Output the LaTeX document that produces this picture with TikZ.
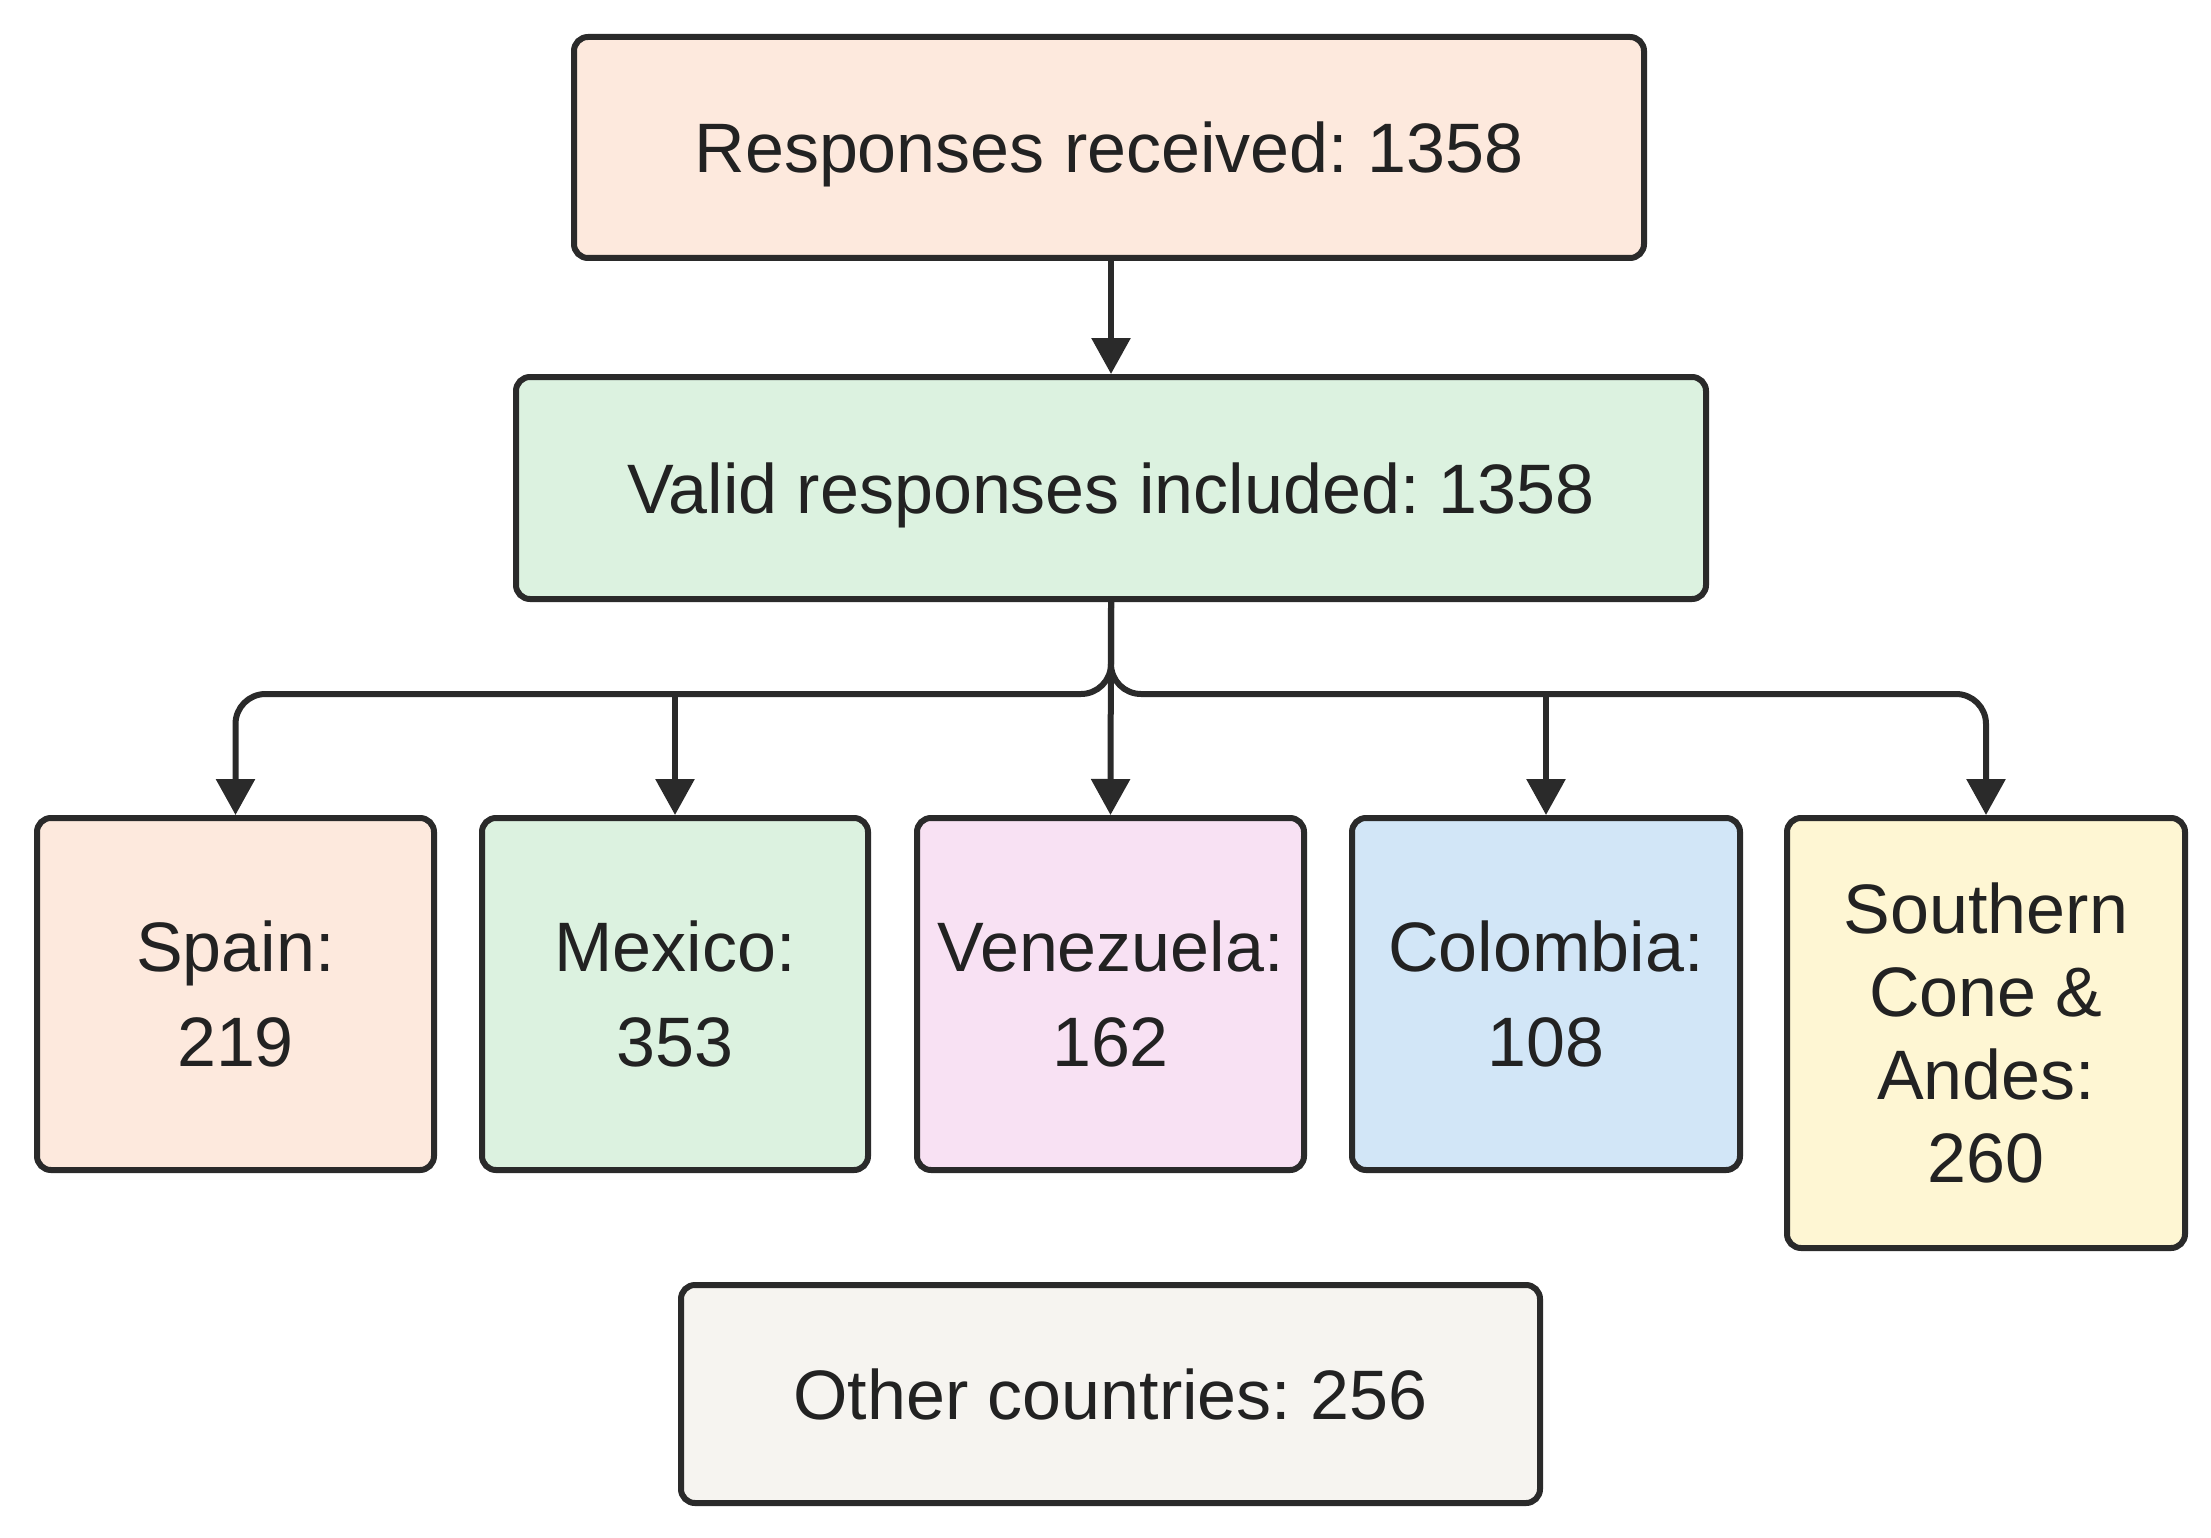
\documentclass[tikz,border=0pt]{standalone}
\usepackage{fontspec}
\setmainfont{Liberation Sans}
\usetikzlibrary{arrows.meta}
\definecolor{edgecol}{HTML}{2A2A2A}
\definecolor{textcol}{HTML}{222222}
\definecolor{peach}{HTML}{FDE9DD}
\definecolor{mint}{HTML}{DCF2E0}
\definecolor{pinkish}{HTML}{F8E1F3}
\definecolor{skyblue}{HTML}{D2E6F7}
\definecolor{cream}{HTML}{FEF6D3}
\definecolor{offwhite}{HTML}{F6F4F0}
\frenchspacing
\begin{document}
\begin{tikzpicture}[x=1pt,y=-1pt,
  box/.style={draw=edgecol, line width=6pt, rounded corners=14pt, align=center,
    text=textcol, inner sep=0pt, font=\fontsize{70}{95}\selectfont},
  conn/.style={draw=edgecol, line width=6pt, -{Triangle[length=36pt,width=38pt]}}]
\useasboundingbox[fill=white] (0,0) rectangle (2211,1538);

\node[box, fill=peach, minimum width=1070pt, minimum height=221pt, text depth=0pt] (top) at (1109,147.5) {Responses received: 1358};
\node[box, fill=mint, minimum width=1190pt, minimum height=222pt, text depth=0pt] (valid) at (1111,488) {Valid responses included: 1358};

\node[box, fill=peach, minimum width=397pt, minimum height=352pt] (spain) at (235.5,994) {Spain:\\219};
\node[box, fill=mint, minimum width=386pt, minimum height=352pt] (mexico) at (675,994) {Mexico:\\353};
\node[box, fill=pinkish, minimum width=387pt, minimum height=352pt] (venez) at (1110.5,994) {Venezuela:\\162};
\node[box, fill=skyblue, minimum width=388pt, minimum height=352pt] (colom) at (1546,994) {Colombia:\\108};
\node[box, fill=cream, minimum width=398pt, minimum height=430pt, font=\fontsize{70}{83}\selectfont] (south) at (1986,1033) {Southern\\Cone \&\\Andes:\\260};

\node[box, fill=offwhite, minimum width=859pt, minimum height=218pt] (other) at (1110.5,1394) {Other countries: 256};

\coordinate (j) at (1111,694);

\draw[conn] (valid.north |- top.south) -- (valid.north);
\draw[conn, rounded corners=30pt] (valid.south) -- (valid.south |- j) -| (spain.north);
\draw[conn, rounded corners=30pt] (valid.south) -- (valid.south |- j) -| (south.north);
\draw[conn] (valid.south) -- (venez.north);
\draw[conn] (mexico.north |- j) -- (mexico.north);
\draw[conn] (colom.north |- j) -- (colom.north);
\end{tikzpicture}
\end{document}
